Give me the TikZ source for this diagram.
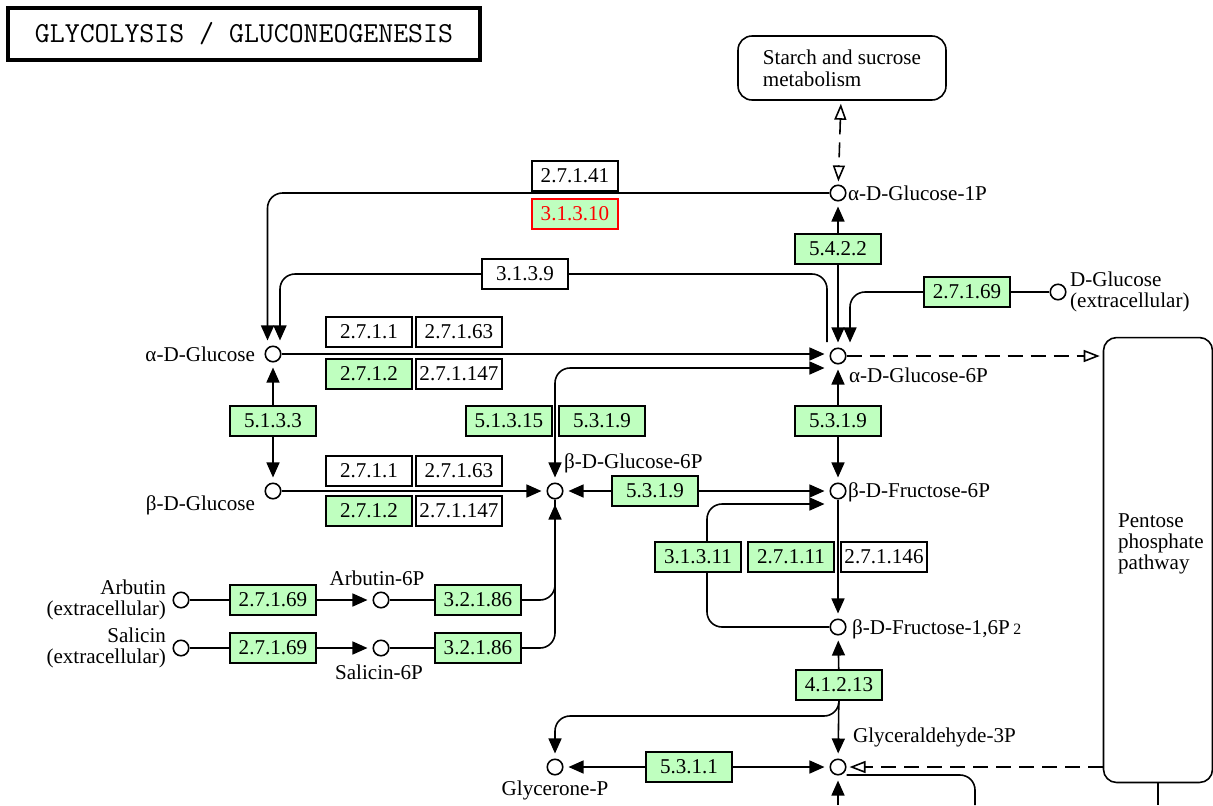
\documentclass[tikz,border=0pt]{standalone}
\usepackage{fontspec}
\setmainfont{Liberation Serif}
\usetikzlibrary{arrows.meta}
\definecolor{kgreen}{HTML}{BFFFBF}
\definecolor{kred}{HTML}{FF0000}
\tikzset{
  cpd/.style={circle, draw, fill=white, line width=0.9pt, minimum size=0.31cm, inner sep=0pt},
  enz/.style={draw, line width=0.7pt, minimum width=1.72cm, minimum height=0.6cm, inner sep=0pt, font=\fontsize{12}{12}\selectfont},
  genz/.style={enz, fill=kgreen},
  lbl/.style={inner sep=1pt, font=\fontsize{12}{11.5}\selectfont},
  ln/.style={line width=0.9pt},
  ar/.style={ln, shorten >=0.1cm, -{Triangle[length=0.3cm,width=0.26cm]}},
  ar2/.style={ln, shorten >=0.1cm, shorten <=0.1cm, {Triangle[length=0.3cm,width=0.26cm]}-{Triangle[length=0.3cm,width=0.26cm]}},
  dar/.style={ln, dash pattern=on 0.3cm off 0.16cm, shorten >=0.06cm, -{Triangle[open,length=0.32cm,width=0.24cm]}},
  dar2/.style={dar, shorten <=0.06cm, {Triangle[open,length=0.32cm,width=0.24cm]}-{Triangle[open,length=0.32cm,width=0.24cm]}},
}
\begin{document}
\begin{tikzpicture}[x=0.02cm, y=-0.02cm]
\useasboundingbox (0,0) rectangle (1213,805);

% Title and maps
\node[draw, line width=2pt, minimum width=9.44cm, minimum height=1.04cm, font=\ttfamily\fontsize{16.5}{16.5}\selectfont] (title) at (244,34) {GLYCOLYSIS / GLUCONEOGENESIS};
\node[draw, ln, rounded corners=0.28cm, minimum width=4.16cm, minimum height=1.28cm, align=left, font=\fontsize{12}{12.5}\selectfont] (starch) at (842,68) {Starch and sucrose\\metabolism};
\node[draw, ln, rounded corners=0.26cm, minimum width=2.18cm, minimum height=8.9cm] (ppp) at (1158,560) {};
\node[lbl, anchor=west, align=left, font=\fontsize{12}{12}\selectfont] (ppptxt) at (1116,544) {Pentose\\phosphate\\pathway};

% Compounds
\foreach \n/\x/\y in {a1p/838/193, aglc/273/354, a6p/838/356, bglc/273/491, b6p/555/491,
    f6p/838/491, fbp/838/627, dglc/1058/292, arb/181/600, arb6p/381/600,
    sal/181/648, sal6p/381/648, gap/838/767, dhap/555/767}
  \node[cpd] (\n) at (\x,\y) {};

% Compound labels
\node[lbl, anchor=west] (a1plbl) at (846,193) {α-D-Glucose-1P};
\node[lbl, anchor=east] (aglclbl) at (257,354) {α-D-Glucose};
\node[lbl, anchor=west] (a6plbl) at (847,375) {α-D-Glucose-6P};
\node[lbl, anchor=east] (bglclbl) at (257,505) {β-D-Glucose};
\node[lbl, anchor=west] (b6plbl) at (562,463) {β-D-Glucose-6P};
\node[lbl, anchor=west] (f6plbl) at (846,492) {β-D-Fructose-6P};
\node[lbl, anchor=west] (fbplbl) at (850,629) {β-D-Fructose-1,6P\,{\fontsize{9}{9}\selectfont 2}};
\node[lbl, anchor=west, align=left] (dglclbl) at (1068,292) {D-Glucose\\(extracellular)};
\node[lbl, anchor=east, align=right] (arblbl) at (168,600) {Arbutin\\(extracellular)};
\node[lbl, anchor=east, align=right] (sallbl) at (168,648) {Salicin\\(extracellular)};
\node[lbl] (arb6plbl) at (377,578) {Arbutin-6P};
\node[lbl] (sal6plbl) at (379,672) {Salicin-6P};
\node[lbl, anchor=west] (gaplbl) at (851,737) {Glyceraldehyde-3P};
\node[lbl] (dhaplbl) at (555,790) {Glycerone-P};

% Enzymes
\foreach \n/\x/\y/\t in {e27141/575/176/2.7.1.41, e3139/525/274/3.1.3.9,
    e2711a/369/332/2.7.1.1, e27163a/459/332/2.7.1.63, e271147a/459/374/2.7.1.147,
    e2711b/369/471/2.7.1.1, e27163b/459/471/2.7.1.63, e271147b/459/511/2.7.1.147,
    e271146/884/557/2.7.1.146}
  \node[enz, fill=white] (\n) at (\x,\y) {\t};
\foreach \n/\x/\y/\t in {e5422/838/249/5.4.2.2, e27169a/967/292/2.7.1.69,
    e2712a/369/374/2.7.1.2, e2712b/369/511/2.7.1.2, e5133/273/421/5.1.3.3,
    e51315/509/421/5.1.3.15, e5319a/602/421/5.3.1.9, e5319b/838/421/5.3.1.9,
    e5319c/655/491/5.3.1.9, e31311/698/557/3.1.3.11, e27111/791/557/2.7.1.11,
    e27169b/273/600/2.7.1.69, e32186a/478/600/3.2.1.86,
    e27169c/273/648/2.7.1.69, e32186b/478/648/3.2.1.86,
    e41213/839/685/4.1.2.13, e5311/689/767/5.3.1.1}
  \node[genz] (\n) at (\x,\y) {\t};
\node[genz, draw=kred, text=kred] (e31310) at (575,214) {3.1.3.10};

% Free ends
\coordinate (r3139) at (827,342);
\coordinate (jdhap) at (555,716);
\coordinate (gbot) at (838,805);
\coordinate (gbr) at (975,805);

% Reactions
\draw[dar2] (starch) -- (a1p);
\draw[ar, rounded corners=0.3cm] (a1p) -| ([xshift=-0.11cm]aglc.north);
\draw[ln, rounded corners=0.3cm] (r3139) |- (e3139);
\draw[ar, rounded corners=0.3cm] (e3139) -| ([xshift=0.14cm]aglc.north);
\draw[ar] (e5422) -- (a1p);
\draw[ar] (e5422) -- (a6p);
\draw[ln] (dglc) -- (e27169a);
\draw[ar, rounded corners=0.3cm] (e27169a) -| ([xshift=0.24cm]a6p.north);
\draw[ar] (aglc) -- (aglc -| a6p.west);
\draw[ar2, rounded corners=0.3cm] (b6p) |- ([yshift=-0.24cm]a6p.west);
\draw[dar] (a6p) -- (a6p -| ppp.west);
\draw[ar] (e5133) -- (aglc);
\draw[ar] (e5133) -- (bglc);
\draw[ar] (bglc) -- (b6p);
\draw[ar] (e5319c) -- (b6p);
\draw[ar] (e5319c) -- (f6p);
\draw[ar] (e5319b) -- (a6p);
\draw[ar] (e5319b) -- (f6p);
\draw[ar] (f6p) -- (fbp);
\draw[ln, rounded corners=0.3cm] (fbp) -| ([xshift=0.18cm]e31311.south);
\draw[ar, rounded corners=0.3cm] ([xshift=0.18cm]e31311.north) |- ([yshift=-0.26cm]f6p.west);
\draw[ln] (arb) -- (e27169b);
\draw[ar] (e27169b) -- (arb6p);
\draw[ln] (arb6p) -- (e32186a);
\draw[ln, rounded corners=0.3cm] (e32186a) -| (b6p.south);
\draw[ln] (sal) -- (e27169c);
\draw[ar] (e27169c) -- (sal6p);
\draw[ln] (sal6p) -- (e32186b);
\draw[ar, rounded corners=0.3cm] (e32186b) -| (b6p);
\draw[ar] (e41213) -- (fbp);
\draw[ar] (e41213) -- (gap);
\draw[ar, rounded corners=0.3cm] (e41213.south) |- (jdhap) -- (dhap);
\draw[ar] (e5311) -- (dhap);
\draw[ar] (e5311) -- (gap);
\draw[dar] (gap -| ppp.west) -- (gap);
\draw[ar] (gbot) -- (gap);
\draw[ln, rounded corners=0.3cm] ([yshift=-0.16cm]gap.east) -| (gbr);
\draw[ln] (ppp.south) -- (ppp.south |- gbot);
\end{tikzpicture}
\end{document}
